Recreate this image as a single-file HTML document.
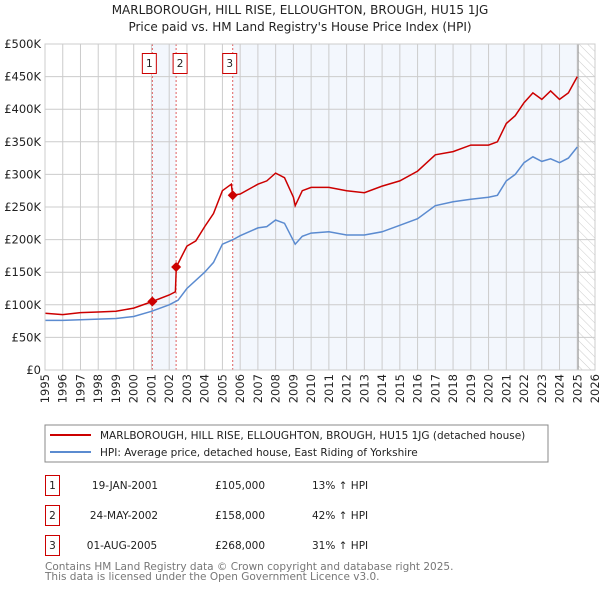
<!DOCTYPE html>
<html><head><meta charset="utf-8"><style>
body{margin:0;background:#fff;font-family:"DejaVu Sans","Liberation Sans",sans-serif;}
svg text{font-family:"DejaVu Sans","Liberation Sans",sans-serif;}
</style></head><body>
<svg id="chart" width="600" height="590" xmlns="http://www.w3.org/2000/svg">
<defs><pattern id="hatch" width="6" height="6" patternUnits="userSpaceOnUse" patternTransform="rotate(-45)"><line x1="0" y1="0" x2="0" y2="6" stroke="#ccc" stroke-width="1"/></pattern></defs>
<text x="300" y="14" text-anchor="middle" font-size="12" fill="#222">MARLBOROUGH, HILL RISE, ELLOUGHTON, BROUGH, HU15 1JG</text>
<text x="300" y="31" text-anchor="middle" font-size="12" fill="#222">Price paid vs. HM Land Registry's House Price Index (HPI)</text>
<g id="plot"></g>
<g>
<rect x="45" y="425" width="503" height="37" fill="#fff" stroke="#888"/>
<line x1="50" y1="435" x2="91" y2="435" stroke="#cc0000" stroke-width="2"/>
<text x="100" y="439" font-size="10.5" fill="#222">MARLBOROUGH, HILL RISE, ELLOUGHTON, BROUGH, HU15 1JG (detached house)</text>
<line x1="50" y1="452" x2="91" y2="452" stroke="#5b8bd0" stroke-width="2"/>
<text x="100" y="456" font-size="10.5" fill="#222">HPI: Average price, detached house, East Riding of Yorkshire</text>
</g>
<g font-size="10.5" fill="#222">
<rect x="45.5" y="475.5" width="14" height="20" fill="none" stroke="#cc0000"/><text x="52.5" y="489" text-anchor="middle">1</text>
<text x="125" y="489" text-anchor="middle">19-JAN-2001</text><text x="240" y="489" text-anchor="middle">£105,000</text><text x="312" y="489">13% ↑ HPI</text>
<rect x="45.5" y="505.5" width="14" height="20" fill="none" stroke="#cc0000"/><text x="52.5" y="519" text-anchor="middle">2</text>
<text x="124" y="519" text-anchor="middle">24-MAY-2002</text><text x="240" y="519" text-anchor="middle">£158,000</text><text x="312" y="519">42% ↑ HPI</text>
<rect x="45.5" y="535.5" width="14" height="20" fill="none" stroke="#cc0000"/><text x="52.5" y="549" text-anchor="middle">3</text>
<text x="122" y="549" text-anchor="middle">01-AUG-2005</text><text x="240" y="549" text-anchor="middle">£268,000</text><text x="312" y="549">31% ↑ HPI</text>
</g>
<text x="45" y="570" font-size="10.5" fill="#777">Contains HM Land Registry data © Crown copyright and database right 2025.</text>
<text x="45" y="580" font-size="10.5" fill="#777">This data is licensed under the Open Government Licence v3.0.</text>
</svg>
<script>
const hpiYears=[1995,1996,1997,1998,1999,2000,2001,2002,2002.5,2003,2004,2004.5,2005,2005.6,2006,2007,2007.5,2008,2008.5,2009.1,2009.5,2010,2011,2012,2013,2014,2015,2016,2017,2018,2019,2020,2020.5,2021,2021.5,2022,2022.5,2023,2023.5,2024,2024.5,2025];
const hpiValues=[76,76,77,78,79,82,90,100,107,125,150,165,193,200,206,218,220,230,225,193,205,210,212,207,207,212,222,232,252,258,262,265,268,290,300,318,327,320,324,318,325,342];
const redYears=[1995,1996,1997,1998,1999,2000,2001.05,2002,2002.35,2002.4,2003,2003.5,2004,2004.5,2005,2005.5,2005.58,2006,2007,2007.5,2008,2008.5,2009,2009.1,2009.5,2010,2011,2012,2013,2014,2015,2016,2017,2018,2019,2020,2020.5,2021,2021.5,2022,2022.5,2023,2023.5,2024,2024.5,2025];
const redValues=[87,85,88,89,90,95,105,115,120,158,190,198,220,240,275,285,268,270,285,290,302,295,265,252,275,280,280,275,272,282,290,305,330,335,345,345,350,378,390,410,425,415,428,415,425,450];
const saleLabels=["1","2","3"];
const saleDates=[2001.05,2002.39,2005.58];
const saleValues=[105,158,268];
const yTicks=[0,50,100,150,200,250,300,350,400,450,500];
const yTickLabels=["£0","£50K","£100K","£150K","£200K","£250K","£300K","£350K","£400K","£450K","£500K"];
const xTicks=[1995,1996,1997,1998,1999,2000,2001,2002,2003,2004,2005,2006,2007,2008,2009,2010,2011,2012,2013,2014,2015,2016,2017,2018,2019,2020,2021,2022,2023,2024,2025,2026];
const dataEnd=2025.05;
const X0=45,X1=595,Y0=370,Y1=44;
const xs=v=>X0+(v-1995)/(2026-1995)*(X1-X0);
const ys=v=>Y0-v/500*(Y0-Y1);
const NS="http://www.w3.org/2000/svg";
const g=document.getElementById('plot');
function mk(t,a){const e=document.createElementNS(NS,t);for(const k in a)e.setAttribute(k,a[k]);g.appendChild(e);return e;}
let e;
e=mk('rect',{x:xs(saleDates[0]),y:Y1,width:xs(saleDates[1])-xs(saleDates[0]),height:Y0-Y1,fill:'#eef3fc',opacity:0.7});

e=mk('rect',{x:xs(saleDates[2]),y:Y1,width:xs(dataEnd)-xs(saleDates[2]),height:Y0-Y1,fill:'#eef3fc',opacity:0.7});

e=mk('rect',{x:xs(dataEnd),y:Y1,width:X1-xs(dataEnd),height:Y0-Y1,fill:'url(#hatch)'});

yTicks.forEach((t,i)=>{
 e=mk('line',{x1:X0,x2:X1,y1:ys(t),y2:ys(t),stroke:'#ccc','stroke-width':1});
 
 e=mk('text',{x:X0-4,y:ys(t)+4,'text-anchor':'end','font-size':11.5,fill:'#222'});e.textContent=yTickLabels[i];
 
});
xTicks.forEach(t=>{
 e=mk('line',{x1:xs(t),x2:xs(t),y1:Y1,y2:Y0,stroke:'#ccc','stroke-width':1});
 
 const tx=xs(t)+4,ty=Y0+4;
 e=mk('text',{x:tx,y:ty,'text-anchor':'end','font-size':11.5,fill:'#222',transform:`rotate(-90 ${tx} ${ty})`});e.textContent=t;
 
});
e=mk('line',{x1:xs(dataEnd),x2:xs(dataEnd),y1:Y1,y2:Y0,stroke:'#999','stroke-width':1});

saleDates.forEach((d,i)=>{
 e=mk('line',{x1:xs(d),x2:xs(d),y1:Y1,y2:Y0,stroke:'#e06060','stroke-width':1,'stroke-dasharray':'2,2'});
 
});
function line(xsA,vs,col,name){
 const p=xsA.map((x,i)=>(i?'L':'M')+xs(x).toFixed(1)+','+ys(vs[i]).toFixed(1)).join('');
 e=mk('path',{d:p,fill:'none',stroke:col,'stroke-width':1.5});
 
}
line(hpiYears,hpiValues,'#5b8bd0','hpi-line');
line(redYears,redValues,'#cc0000','price-paid-line');
saleDates.forEach((d,i)=>{
 const cx=xs(d),cy=ys(saleValues[i]);
 e=mk('path',{d:`M${cx},${cy-5}L${cx+5},${cy}L${cx},${cy+5}L${cx-5},${cy}Z`,fill:'#cc0000'});
 
 const bx=[xs(d)-10,xs(d)-3,xs(d)-10][i];
 e=mk('rect',{x:bx,y:53.5,width:14,height:20,fill:'#fff',stroke:'#cc0000'});
 
 e=mk('text',{x:bx+7,y:67,'text-anchor':'middle','font-size':10.5,fill:'#222'});e.textContent=saleLabels[i];
 
});
e=mk('rect',{x:X0,y:Y1,width:X1-X0,height:Y0-Y1,fill:'none',stroke:'#ccc'});

</script>
</body></html>
